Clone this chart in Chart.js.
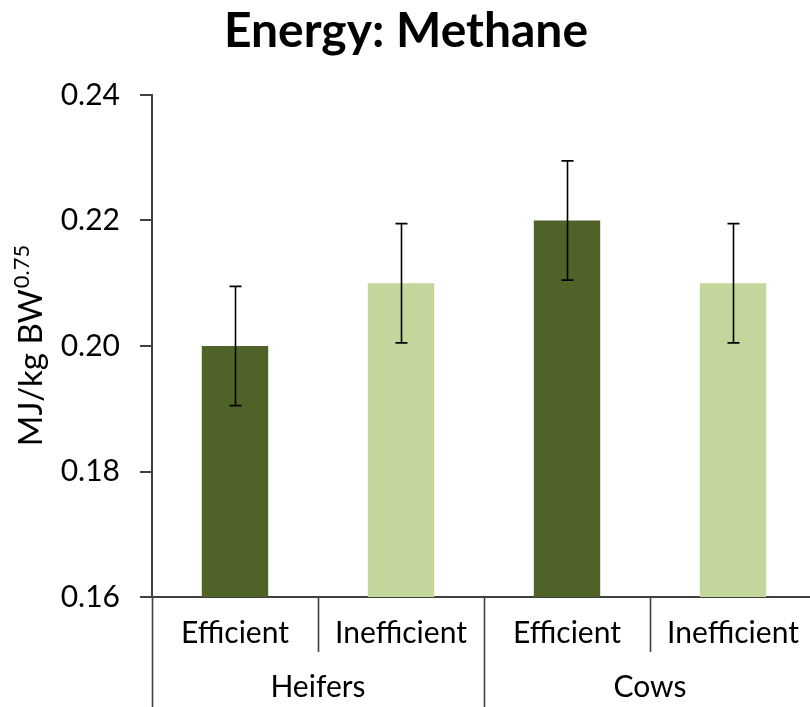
<!DOCTYPE html>
<html>
<head>
<meta charset="utf-8">
<script src="https://cdn.jsdelivr.net/npm/chart.js@4/dist/chart.umd.min.js"></script>
<style>
  html, body { margin: 0; padding: 0; background: #fff; overflow: hidden; }
  #wrap { width: 830px; height: 707px; }
</style>
</head>
<body>
<div id="wrap"><canvas id="c" width="830" height="707"></canvas></div>
<script>
// Methane energy per metabolic body weight, by group and efficiency class
const groups = ['Heifers', 'Cows'];
const categories = ['Efficient', 'Inefficient', 'Efficient', 'Inefficient'];
const categoryGroup = [0, 0, 1, 1];
const values = [0.20, 0.21, 0.22, 0.21];
const errors = [0.0095, 0.0095, 0.0095, 0.0095];
const barColors = ['#4f6228', '#c3d69b', '#4f6228', '#c3d69b'];
const yTicks = [0.16, 0.18, 0.20, 0.22, 0.24];

const FONT = 'Lato, Carlito, "Open Sans", sans-serif';
const AXIS_COLOR = '#404040';

const decorations = {
  id: 'decorations',
  afterDatasetsDraw(chart) {
    const ctx = chart.ctx;
    const y = chart.scales.y;
    const meta = chart.getDatasetMeta(0);
    // error bars
    ctx.save();
    ctx.strokeStyle = '#000';
    ctx.lineWidth = 1.6;
    meta.data.forEach((bar, i) => {
      const hi = y.getPixelForValue(values[i] + errors[i]);
      const lo = y.getPixelForValue(values[i] - errors[i]);
      const x = Math.round(bar.x) + 0.5;
      ctx.beginPath();
      ctx.moveTo(x, hi); ctx.lineTo(x, lo);
      ctx.moveTo(x - 6, hi); ctx.lineTo(x + 6, hi);
      ctx.moveTo(x - 6, lo); ctx.lineTo(x + 6, lo);
      ctx.stroke();
    });
    ctx.restore();
  },
  afterDraw(chart) {
    const ctx = chart.ctx;
    const x = chart.scales.x;
    const area = chart.chartArea;
    const bottom = chart.height;
    const half = (x.getPixelForValue(1) - x.getPixelForValue(0)) / 2;

    ctx.save();
    ctx.strokeStyle = AXIS_COLOR;
    ctx.lineWidth = 1.6;
    // separators between categories (short) and between groups (full height)
    for (let i = 0; i <= categories.length; i++) {
      const px = Math.round(x.getPixelForValue(0) - half + i * 2 * half) + 0.5;
      const isGroupEdge = i === 0 || i === categories.length ||
        categoryGroup[i] !== categoryGroup[i - 1];
      ctx.beginPath();
      ctx.moveTo(px, area.bottom);
      ctx.lineTo(px, isGroupEdge ? bottom : area.bottom + 55);
      ctx.stroke();
    }

    // group labels
    ctx.fillStyle = '#000';
    ctx.font = '30px ' + FONT;
    ctx.textAlign = 'center';
    ctx.textBaseline = 'alphabetic';
    groups.forEach((g, gi) => {
      const idx = categoryGroup.map((v, i) => v === gi ? i : -1).filter(i => i >= 0);
      const cx = (x.getPixelForValue(idx[0]) + x.getPixelForValue(idx[idx.length - 1])) / 2;
      ctx.fillText(g, cx, 697);
    });

    // title
    ctx.font = 'bold 48px ' + FONT;
    ctx.fillText('Energy: Methane', 406, 47);

    // y-axis title with superscript exponent
    ctx.translate(42, (area.top + area.bottom) / 2);
    ctx.rotate(-Math.PI / 2);
    const main = 'MJ/kg BW';
    const sup = '0.75';
    ctx.font = '33px ' + FONT;
    const wMain = ctx.measureText(main).width;
    ctx.font = '22px ' + FONT;
    const wSup = ctx.measureText(sup).width;
    const start = -(wMain + wSup) / 2;
    ctx.textAlign = 'left';
    ctx.font = '33px ' + FONT;
    ctx.fillText(main, start, 0);
    ctx.font = '22px ' + FONT;
    ctx.fillText(sup, start + wMain + 1, -13);
    ctx.restore();
  }
};

new Chart(document.getElementById('c'), {
  type: 'bar',
  data: {
    labels: categories,
    datasets: [{
      data: values,
      backgroundColor: barColors,
      borderWidth: 0,
      barPercentage: 0.4,
      categoryPercentage: 1.0
    }]
  },
  options: {
    responsive: false,
    animation: false,
    devicePixelRatio: 1,
    layout: { padding: { top: 95, right: 14, bottom: 0, left: 0 } },
    plugins: { legend: { display: false }, title: { display: false }, tooltip: { enabled: false } },
    scales: {
      x: {
        offset: true,
        grid: { display: false },
        border: { display: true, color: AXIS_COLOR, width: 2 },
        ticks: { color: '#000', font: { family: FONT, size: 30 }, padding: 10, maxRotation: 0, autoSkip: false },
        afterFit(scale) { scale.height = 110; }
      },
      y: {
        min: 0.16,
        max: 0.24,
        afterBuildTicks(scale) { scale.ticks = yTicks.map(v => ({ value: v })); },
        grid: { drawOnChartArea: false, drawTicks: true, tickLength: 12, color: AXIS_COLOR, lineWidth: 2 },
        border: { display: true, color: AXIS_COLOR, width: 2 },
        ticks: {
          color: '#000',
          font: { family: FONT, size: 30 },
          padding: 20,
          callback: v => Number(v).toFixed(2)
        },
        afterFit(scale) { scale.width = 152; }
      }
    }
  },
  plugins: [decorations]
});
</script>
</body>
</html>
